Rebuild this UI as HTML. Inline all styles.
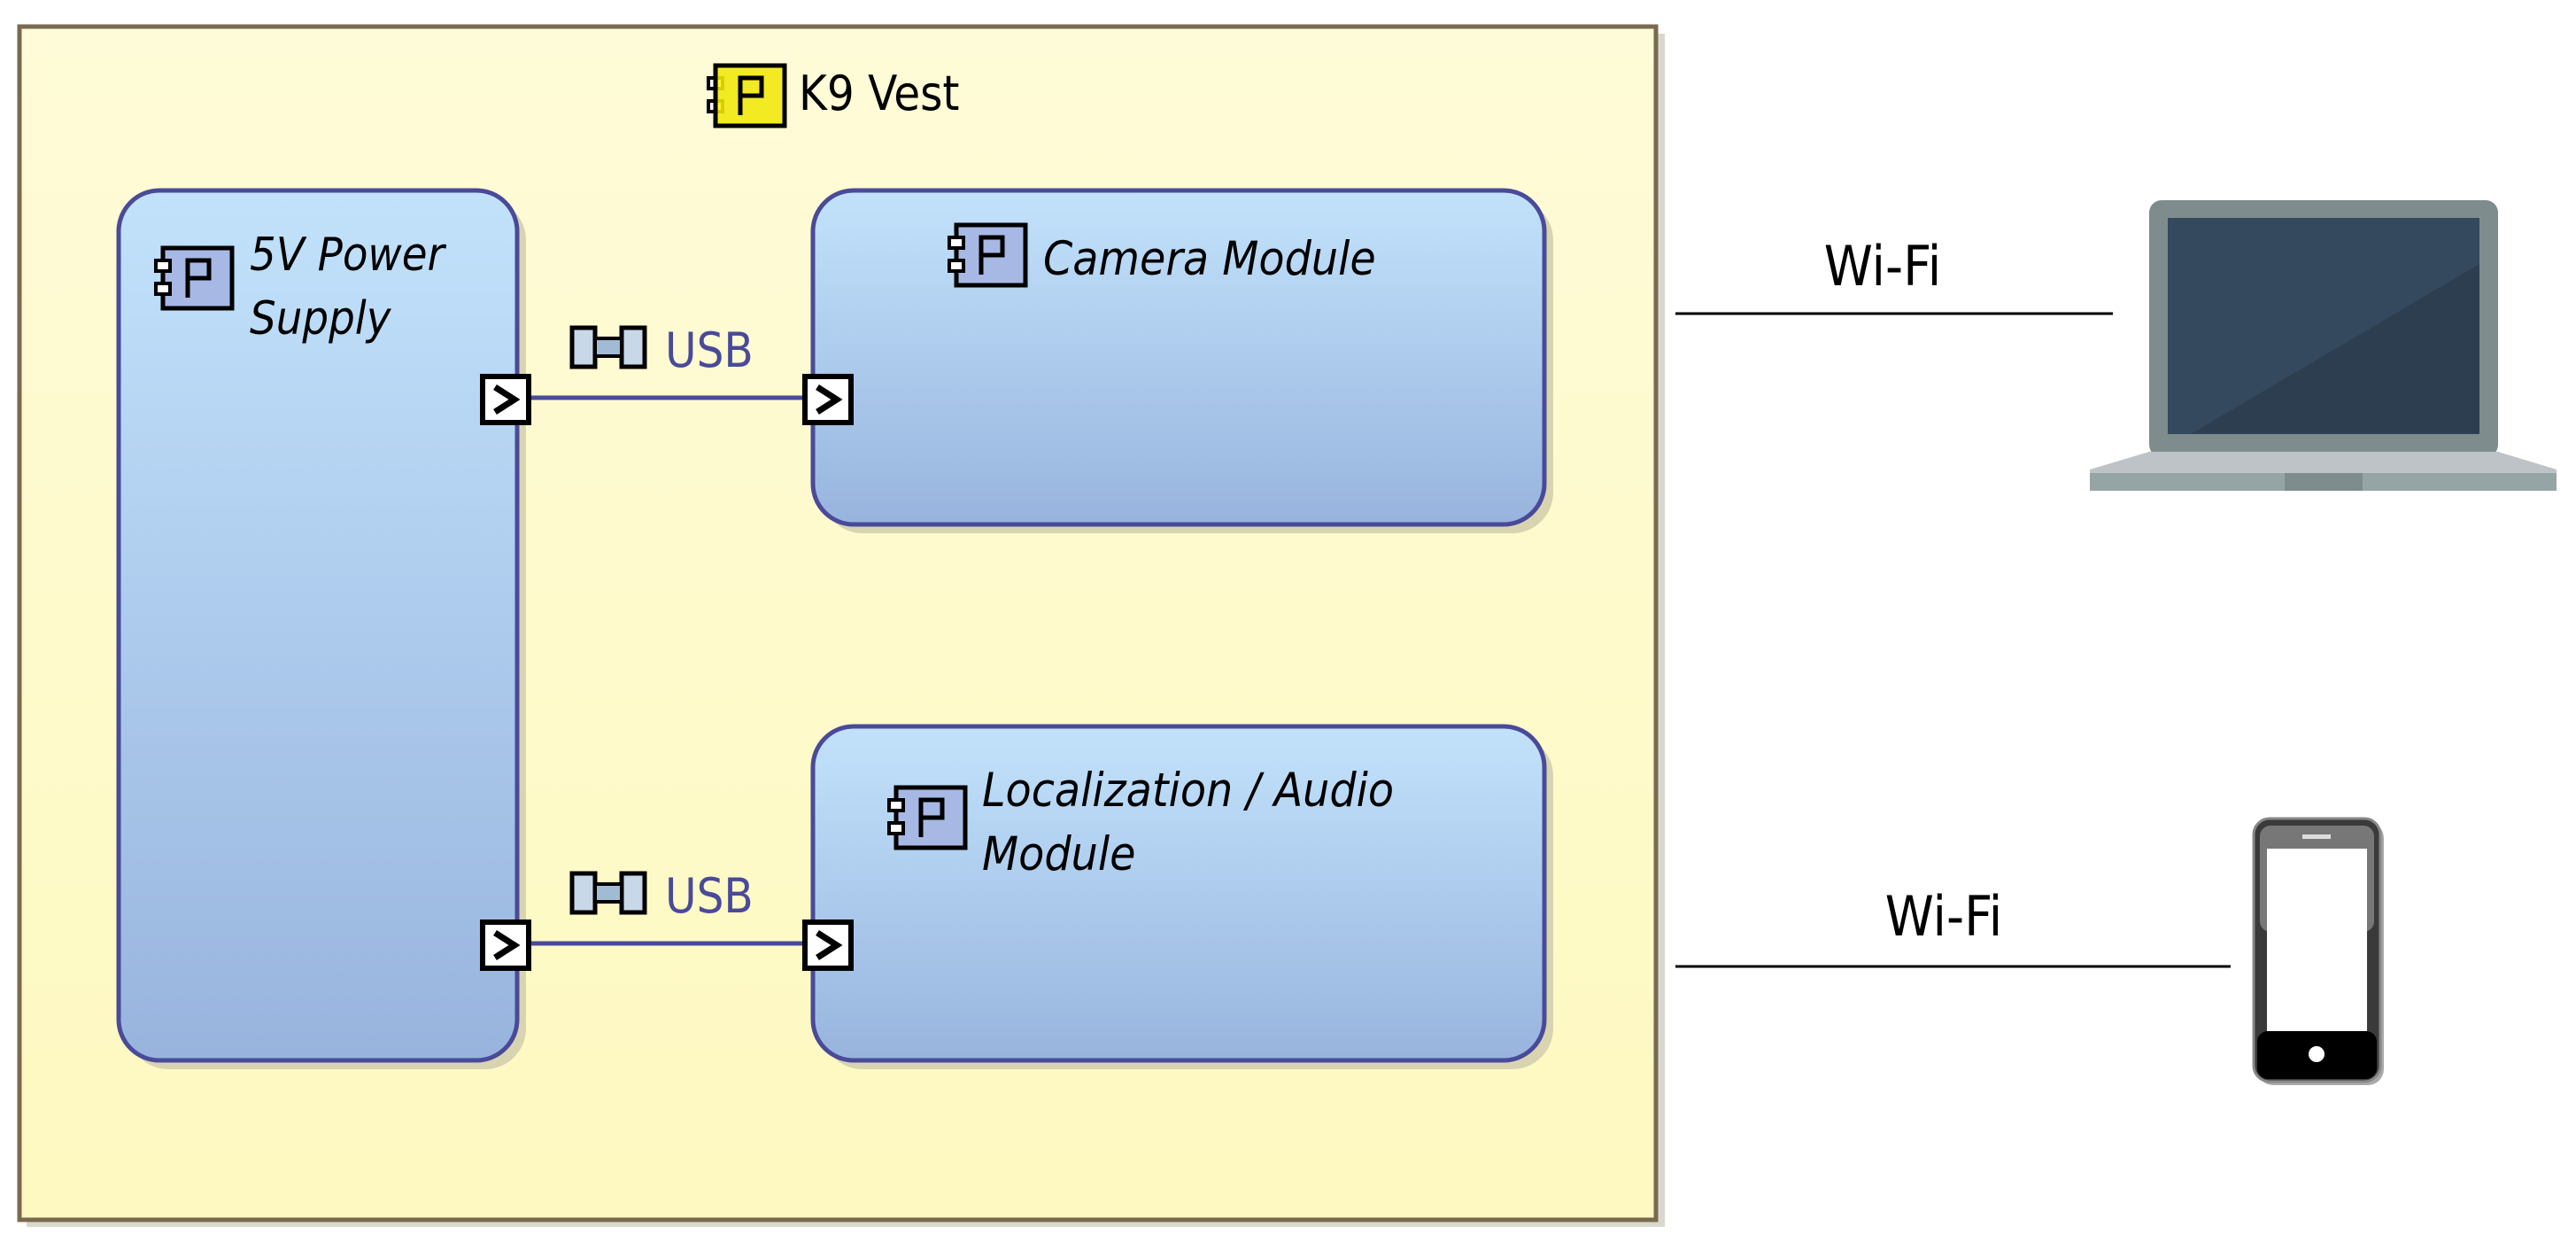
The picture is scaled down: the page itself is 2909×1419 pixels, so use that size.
<!DOCTYPE html>
<html><head><meta charset="utf-8"><style>
html,body{margin:0;padding:0;background:#fff;}
svg{display:block;}
text{font-family:"DejaVu Sans Condensed","Liberation Sans",sans-serif;}
</style></head><body>
<svg width="2909" height="1419" viewBox="0 0 2909 1419" xmlns="http://www.w3.org/2000/svg">
<defs>
<linearGradient id="bg" x1="0" y1="0" x2="0" y2="1"><stop offset="0" stop-color="#fefbd8"/><stop offset="1" stop-color="#fef9c0"/></linearGradient>
<linearGradient id="bl" x1="0" y1="0" x2="0" y2="1"><stop offset="0" stop-color="#c2e2fb"/><stop offset="1" stop-color="#98b4de"/></linearGradient>
<g id="comp">
<rect x="8" y="0" width="78" height="68" fill="#a8b8e4" stroke="#000" stroke-width="5"/>
<rect x="0" y="14" width="16" height="12" fill="#fff" stroke="#000" stroke-width="4"/>
<rect x="0" y="40" width="16" height="12" fill="#fff" stroke="#000" stroke-width="4"/>
<path d="M36 56 V14 H60 V34 H36" fill="none" stroke="#000" stroke-width="5"/>
</g>
<g id="port">
<rect x="0" y="0" width="52" height="52" fill="#fff" stroke="#000" stroke-width="6"/>
<path d="M14 12 L36 26 L14 40" fill="none" stroke="#000" stroke-width="7"/>
</g>
<g id="usb">
<rect x="2" y="2" width="26" height="44" fill="#c8d8e8" stroke="#000" stroke-width="5"/>
<rect x="58" y="2" width="26" height="44" fill="#c8d8e8" stroke="#000" stroke-width="5"/>
<rect x="28" y="14" width="30" height="20" fill="#a0bcd4" stroke="#000" stroke-width="4"/>
</g>
</defs>
<rect x="30" y="38" width="1850" height="1347" fill="#d8d8d0"/>
<rect x="22" y="30" width="1848" height="1347" fill="url(#bg)" stroke="#7a6a4f" stroke-width="5"/>
<use href="#comp" x="800" y="74"/>
<rect x="808" y="74" width="78" height="68" fill="#fff200" opacity="0.85"/>
<path d="M836 130 V88 H860 V108 H836" fill="none" stroke="#000" stroke-width="5"/>
<rect x="808" y="74" width="78" height="68" fill="none" stroke="#000" stroke-width="5"/>
<text x="902" y="124" font-size="54" fill="#000">K9 Vest</text>

<rect x="144" y="225" width="450" height="982" rx="46" fill="#d8d4b0"/>
<rect x="928" y="225" width="826" height="377" rx="46" fill="#d8d4b0"/>
<rect x="928" y="830" width="826" height="377" rx="46" fill="#d8d4b0"/>
<rect x="134" y="215" width="450" height="982" rx="46" fill="url(#bl)" stroke="#4a4a9a" stroke-width="5"/>
<rect x="918" y="215" width="826" height="377" rx="46" fill="url(#bl)" stroke="#4a4a9a" stroke-width="5"/>
<rect x="918" y="820" width="826" height="377" rx="46" fill="url(#bl)" stroke="#4a4a9a" stroke-width="5"/>

<use href="#comp" x="176" y="280"/>
<text font-size="52" font-style="italic" fill="#000"><tspan x="282" y="305">5V Power</tspan><tspan x="282" y="377">Supply</tspan></text>
<use href="#comp" x="1072" y="254"/>
<text x="1178" y="310" font-size="53" font-style="italic" fill="#000">Camera Module</text>
<use href="#comp" x="1004" y="889"/>
<text font-size="53" font-style="italic" fill="#000"><tspan x="1109" y="910">Localization / Audio</tspan><tspan x="1109" y="982">Module</tspan></text>

<line x1="597" y1="449" x2="909" y2="449" stroke="#4a4a9a" stroke-width="5"/>
<line x1="597" y1="1065" x2="909" y2="1065" stroke="#4a4a9a" stroke-width="5"/>
<use href="#port" x="545" y="425"/>
<use href="#port" x="909" y="425"/>
<use href="#port" x="545" y="1041"/>
<use href="#port" x="909" y="1041"/>
<use href="#usb" x="644" y="368"/>
<use href="#usb" x="644" y="984"/>
<text x="751" y="414" font-size="54" fill="#4a4a9a">USB</text>
<text x="751" y="1030" font-size="54" fill="#4a4a9a">USB</text>

<line x1="1892" y1="354" x2="2386" y2="354" stroke="#000" stroke-width="3"/>
<text x="2126" y="322" font-size="62" text-anchor="middle" fill="#000">Wi-Fi</text>
<line x1="1892" y1="1091" x2="2519" y2="1091" stroke="#000" stroke-width="3"/>
<text x="2195" y="1056" font-size="62" text-anchor="middle" fill="#000">Wi-Fi</text>

<rect x="2427" y="226" width="394" height="290" rx="14" fill="#7f8c8d"/>
<rect x="2448" y="246" width="352" height="244" fill="#34495e"/>
<path d="M2474 490 L2800 298 V490 Z" fill="#2c3e50"/>
<path d="M2427 510 H2821 L2887 530 V537 H2360 V530 Z" fill="#bdc3c7"/>
<rect x="2360" y="534" width="527" height="20" fill="#95a5a6"/>
<rect x="2580" y="534" width="88" height="20" fill="#7f8c8d"/>

<rect x="2549" y="928" width="143" height="297" rx="18" fill="#aaa"/>
<rect x="2545" y="924" width="143" height="297" rx="18" fill="#3a3a3a" stroke="#888" stroke-width="3"/>
<rect x="2552" y="932" width="129" height="120" rx="12" fill="#777"/>
<rect x="2560" y="958" width="113" height="206" fill="#fff"/>
<rect x="2600" y="942" width="32" height="5" fill="#ddd"/>
<rect x="2549" y="1164" width="135" height="54" rx="12" fill="#000"/>
<circle cx="2616" cy="1190" r="9" fill="#fff"/>
</svg>
</body></html>
